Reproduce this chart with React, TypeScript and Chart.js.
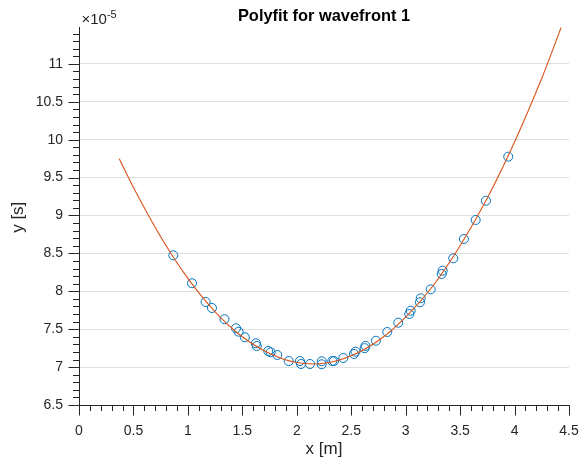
import React, { useEffect, useRef } from "react";
import { Chart, registerables } from "chart.js";

Chart.register(...registerables);

// measured samples (values in units of 1e-5 s)
const sampleX = [0.866, 1.038, 1.163, 1.221, 1.336, 1.442, 1.466, 1.524, 1.625, 1.632, 1.738, 1.76, 1.821, 1.926, 2.029, 2.039, 2.121, 2.229, 2.229, 2.326, 2.342, 2.427, 2.525, 2.539, 2.623, 2.631, 2.727, 2.831, 2.932, 3.033, 3.046, 3.131, 3.138, 3.23, 3.331, 3.34, 3.437, 3.535, 3.643, 3.737, 3.942];
const sampleY = [8.475, 8.106, 7.859, 7.78, 7.632, 7.512, 7.467, 7.393, 7.314, 7.278, 7.212, 7.195, 7.16, 7.08, 7.08, 7.041, 7.041, 7.037, 7.077, 7.08, 7.08, 7.12, 7.173, 7.204, 7.25, 7.28, 7.348, 7.463, 7.586, 7.7, 7.744, 7.855, 7.908, 8.026, 8.228, 8.272, 8.435, 8.69, 8.941, 9.195, 9.776];

// polyfit curve
const fitX = [0.37, 0.5, 0.75, 1.0, 1.25, 1.5, 1.75, 2.0, 2.25, 2.5, 2.75, 3.0, 3.25, 3.5, 3.75, 4.0, 4.25, 4.43];
const fitY = [9.75, 9.37, 8.72, 8.17, 7.73, 7.4, 7.18, 7.06, 7.05, 7.15, 7.35, 7.66, 8.07, 8.6, 9.23, 9.97, 10.81, 11.49];

const xTickValues = [0, 0.5, 1, 1.5, 2, 2.5, 3, 3.5, 4, 4.5];
const xTickLabels = ["0", "0.5", "1", "1.5", "2", "2.5", "3", "3.5", "4", "4.5"];
const yTickValues = [6.5, 7, 7.5, 8, 8.5, 9, 9.5, 10, 10.5, 11];
const yTickLabels = ["6.5", "7", "7.5", "8", "8.5", "9", "9.5", "10", "10.5", "11"];

const X_MIN = 0;
const X_MAX = 4.5;
const Y_MIN = 6.5;
const Y_MAX = 11.48;

const titleText = "Polyfit for wavefront 1";
const xLabelText = "x [m]";
const yLabelText = "y [s]";
const exponentBase = "\u00d710";
const exponentPower = "-5";

const FONT = "'Liberation Sans', Arial, Helvetica, sans-serif";
const AXIS_COLOR = "#262626";

export default function App() {
  const ref = useRef<HTMLCanvasElement>(null);

  useEffect(() => {
    const canvas = ref.current;
    if (!canvas) return;

    const decor = {
      id: "matlabDecor",
      afterDraw(chart: any) {
        const { ctx, chartArea: a, scales } = chart;
        const xs = scales.x;
        const ys = scales.y;
        ctx.save();
        ctx.strokeStyle = AXIS_COLOR;
        ctx.lineWidth = 1;
        ctx.beginPath();
        const bottom = Math.round(a.bottom) + 0.5;
        const left = Math.round(a.left) - 0.5;
        // x ticks (major + minor)
        for (let i = 0; i <= 45; i++) {
          const v = X_MIN + i * 0.1;
          const px = Math.round(xs.getPixelForValue(v)) + 0.5;
          const len = i % 5 === 0 ? 10 : 5.5;
          ctx.moveTo(px, bottom - 0.5);
          ctx.lineTo(px, bottom + len);
        }
        // y ticks
        for (let i = 0; i <= 49; i++) {
          const v = Y_MIN + i * 0.1;
          const py = Math.round(ys.getPixelForValue(v)) + 0.5;
          const len = i % 5 === 0 ? 10 : 5.5;
          ctx.moveTo(left + 0.5, py);
          ctx.lineTo(left - len, py);
        }
        ctx.stroke();

        const cx = (a.left + a.right) / 2;
        // title
        ctx.fillStyle = "#000000";
        ctx.font = `bold 16.4px ${FONT}`;
        ctx.textAlign = "center";
        ctx.textBaseline = "alphabetic";
        ctx.fillText(titleText, cx, 20.5);

        // x label
        ctx.fillStyle = AXIS_COLOR;
        ctx.font = `17px ${FONT}`;
        ctx.fillText(xLabelText, cx, 454);

        // y label
        ctx.save();
        ctx.translate(23, (a.top + a.bottom) / 2 + 1);
        ctx.rotate(-Math.PI / 2);
        ctx.fillText(yLabelText, 0, 0);
        ctx.restore();

        // exponent
        ctx.textAlign = "left";
        ctx.font = `15px ${FONT}`;
        ctx.fillText(exponentBase, 81.5, 24);
        const w = ctx.measureText(exponentBase).width;
        ctx.font = `11px ${FONT}`;
        ctx.fillText(exponentPower, 81.5 + w, 17.5);
        ctx.restore();
      },
    };

    const chart = new Chart(canvas, {
      type: "scatter",
      data: {
        datasets: [
          {
            label: "fit",
            data: fitX.map((x, i) => ({ x, y: fitY[i] })),
            showLine: true,
            borderColor: "#D95319",
            backgroundColor: "#D95319",
            borderWidth: 1.1,
            pointRadius: 0,
            tension: 0.35,
          },
          {
            label: "samples",
            data: sampleX.map((x, i) => ({ x, y: sampleY[i] })),
            showLine: false,
            borderColor: "#0072BD",
            backgroundColor: "rgba(0,0,0,0)",
            borderWidth: 1,
            pointRadius: 4.5,
            pointHoverRadius: 4.5,
          },
        ],
      },
      options: {
        animation: false,
        responsive: false,
        devicePixelRatio: 1,
        layout: { padding: { top: 27.5, right: 10, left: 0, bottom: 0 } },
        plugins: {
          legend: { display: false },
          tooltip: { enabled: false },
          title: { display: false },
        },
        scales: {
          x: {
            type: "linear",
            min: X_MIN,
            max: X_MAX,
            afterBuildTicks: (s: any) => {
              s.ticks = xTickValues.map((v) => ({ value: v }));
            },
            afterFit: (s: any) => {
              s.height = 63;
              s.paddingLeft = 0;
              s.paddingRight = 0;
            },
            ticks: {
              autoSkip: false,
              maxRotation: 0,
              padding: 18,
              color: AXIS_COLOR,
              font: { family: FONT, size: 14 },
              callback: (v: any) => {
                const idx = xTickValues.indexOf(Number(v));
                return idx >= 0 ? xTickLabels[idx] : "";
              },
            },
            grid: { display: true, drawOnChartArea: false, drawTicks: false },
            border: { display: true, color: AXIS_COLOR, width: 1 },
          },
          y: {
            type: "linear",
            min: Y_MIN,
            max: Y_MAX,
            afterBuildTicks: (s: any) => {
              s.ticks = yTickValues.map((v) => ({ value: v }));
            },
            afterFit: (s: any) => {
              s.width = 79;
              s.paddingTop = 0;
              s.paddingBottom = 0;
            },
            ticks: {
              autoSkip: false,
              padding: 16,
              color: AXIS_COLOR,
              font: { family: FONT, size: 14 },
              callback: (v: any) => {
                const idx = yTickValues.indexOf(Number(v));
                return idx >= 0 ? yTickLabels[idx] : "";
              },
            },
            grid: {
              display: true,
              drawOnChartArea: true,
              drawTicks: false,
              color: "rgba(38,38,38,0.15)",
              lineWidth: 1,
            },
            border: { display: true, color: AXIS_COLOR, width: 1 },
          },
        },
      },
      plugins: [decor],
    } as any);

    return () => chart.destroy();
  }, []);

  return (
    <div style={{ position: "fixed", left: 0, top: 0, width: 579, height: 468, background: "#ffffff" }}>
      <canvas ref={ref} width={579} height={468} style={{ display: "block", width: 579, height: 468 }} />
    </div>
  );
}
